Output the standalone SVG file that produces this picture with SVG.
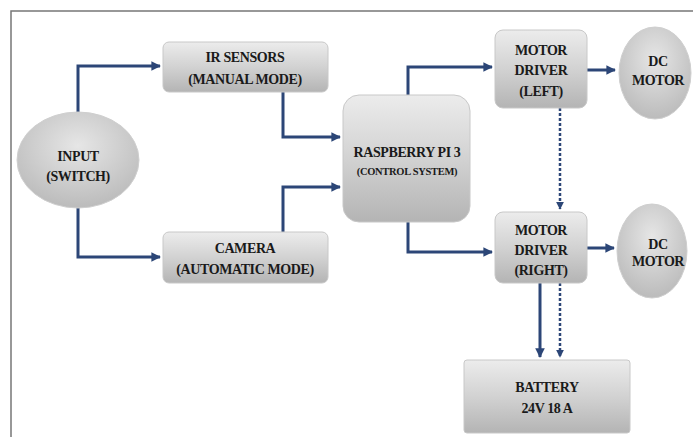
<svg xmlns="http://www.w3.org/2000/svg" width="693" height="437" viewBox="0 0 693 437">
<defs>
<linearGradient id="boxg" x1="0" y1="0" x2="0" y2="1">
<stop offset="0" stop-color="#ececec"/>
<stop offset="0.5" stop-color="#d2d2d2"/>
<stop offset="1" stop-color="#b4b4b4"/>
</linearGradient>
<radialGradient id="ellg" cx="0.5" cy="0.35" r="0.7">
<stop offset="0" stop-color="#e6e6e6"/>
<stop offset="1" stop-color="#b8b8b8"/>
</radialGradient>
<marker id="arr" viewBox="0 0 10 10" refX="9" refY="5" markerWidth="3.2" markerHeight="3.2" orient="auto" markerUnits="strokeWidth">
<path d="M0,0 L10,5 L0,10 z" fill="#2c4677"/>
</marker>
</defs>
<style>
.box{fill:url(#boxg);stroke:#c8c8c8;stroke-width:1}
.ell{fill:url(#ellg);stroke:#cfcfcf;stroke-width:1}
.t{font-family:"Liberation Serif","DejaVu Serif",serif;font-weight:bold;font-size:14px;letter-spacing:-0.4px;fill:#1a1a1a;text-anchor:middle}
.s{font-size:10.5px;letter-spacing:-0.3px}
.c{fill:none;stroke:#2c4677;stroke-width:3}
.d{stroke-dasharray:3 2;stroke-width:2.5}
</style>
<rect x="0" y="0" width="693" height="437" fill="#ffffff"/>
<path d="M11,437 V11 H693" fill="none" stroke="#777" stroke-width="1.5"/>

<g id="connectors">
<path class="c" d="M78,113 V66 H160" marker-end="url(#arr)"/>
<path class="c" d="M78,207 V257 H160" marker-end="url(#arr)"/>
<path class="c" d="M283,92 V137 H340" marker-end="url(#arr)"/>
<path class="c" d="M283,232 V187 H340" marker-end="url(#arr)"/>
<path class="c" d="M408,95 V67 H492" marker-end="url(#arr)"/>
<path class="c" d="M408,222 V252 H492" marker-end="url(#arr)"/>
<path class="c" d="M587,70 H615" marker-end="url(#arr)"/>
<path class="c" d="M587,248 H614" marker-end="url(#arr)"/>
<path class="c d" d="M560,108 V209" marker-end="url(#arr)"/>
<path class="c" d="M540,283 V357" marker-end="url(#arr)"/>
<path class="c d" d="M560,283 V357" marker-end="url(#arr)"/>
</g>

<g id="input">
<ellipse class="ell" cx="78" cy="160" rx="61" ry="48"/>
<text class="t" x="78" y="161">INPUT</text>
<text class="t" x="78" y="181">(SWITCH)</text>
</g>
<g id="ir-sensors">
<rect class="box" x="163" y="42" width="165" height="50" rx="6"/>
<text class="t" x="245" y="62">IR SENSORS</text>
<text class="t" x="245" y="84">(MANUAL MODE)</text>
</g>
<g id="camera">
<rect class="box" x="163" y="232" width="165" height="51" rx="6"/>
<text class="t" x="245" y="253">CAMERA</text>
<text class="t" x="245" y="274">(AUTOMATIC MODE)</text>
</g>
<g id="raspberry-pi">
<rect class="box" x="343" y="95" width="127" height="127" rx="16"/>
<text class="t" x="407" y="157">RASPBERRY PI 3</text>
<text class="t s" x="407" y="175">(CONTROL SYSTEM)</text>
</g>
<g id="motor-driver-left">
<rect class="box" x="495" y="30" width="92" height="78" rx="8"/>
<text class="t" x="541" y="55">MOTOR</text>
<text class="t" x="541" y="75">DRIVER</text>
<text class="t" x="541" y="96">(LEFT)</text>
</g>
<g id="motor-driver-right">
<rect class="box" x="495" y="212" width="92" height="71" rx="8"/>
<text class="t" x="541" y="235">MOTOR</text>
<text class="t" x="541" y="255">DRIVER</text>
<text class="t" x="541" y="275">(RIGHT)</text>
</g>
<g id="dc-motor-top">
<ellipse class="ell" cx="655" cy="73" rx="36" ry="46"/>
<text class="t" x="658" y="66">DC</text>
<text class="t" x="658" y="85">MOTOR</text>
</g>
<g id="dc-motor-bottom">
<ellipse class="ell" cx="652" cy="251" rx="35" ry="47"/>
<text class="t" x="658" y="249">DC</text>
<text class="t" x="658" y="266">MOTOR</text>
</g>
<g id="battery">
<rect class="box" x="464" y="360" width="166" height="73" rx="3"/>
<text class="t" x="547" y="392">BATTERY</text>
<text class="t" x="547" y="413">24V 18 A</text>
</g>
</svg>
